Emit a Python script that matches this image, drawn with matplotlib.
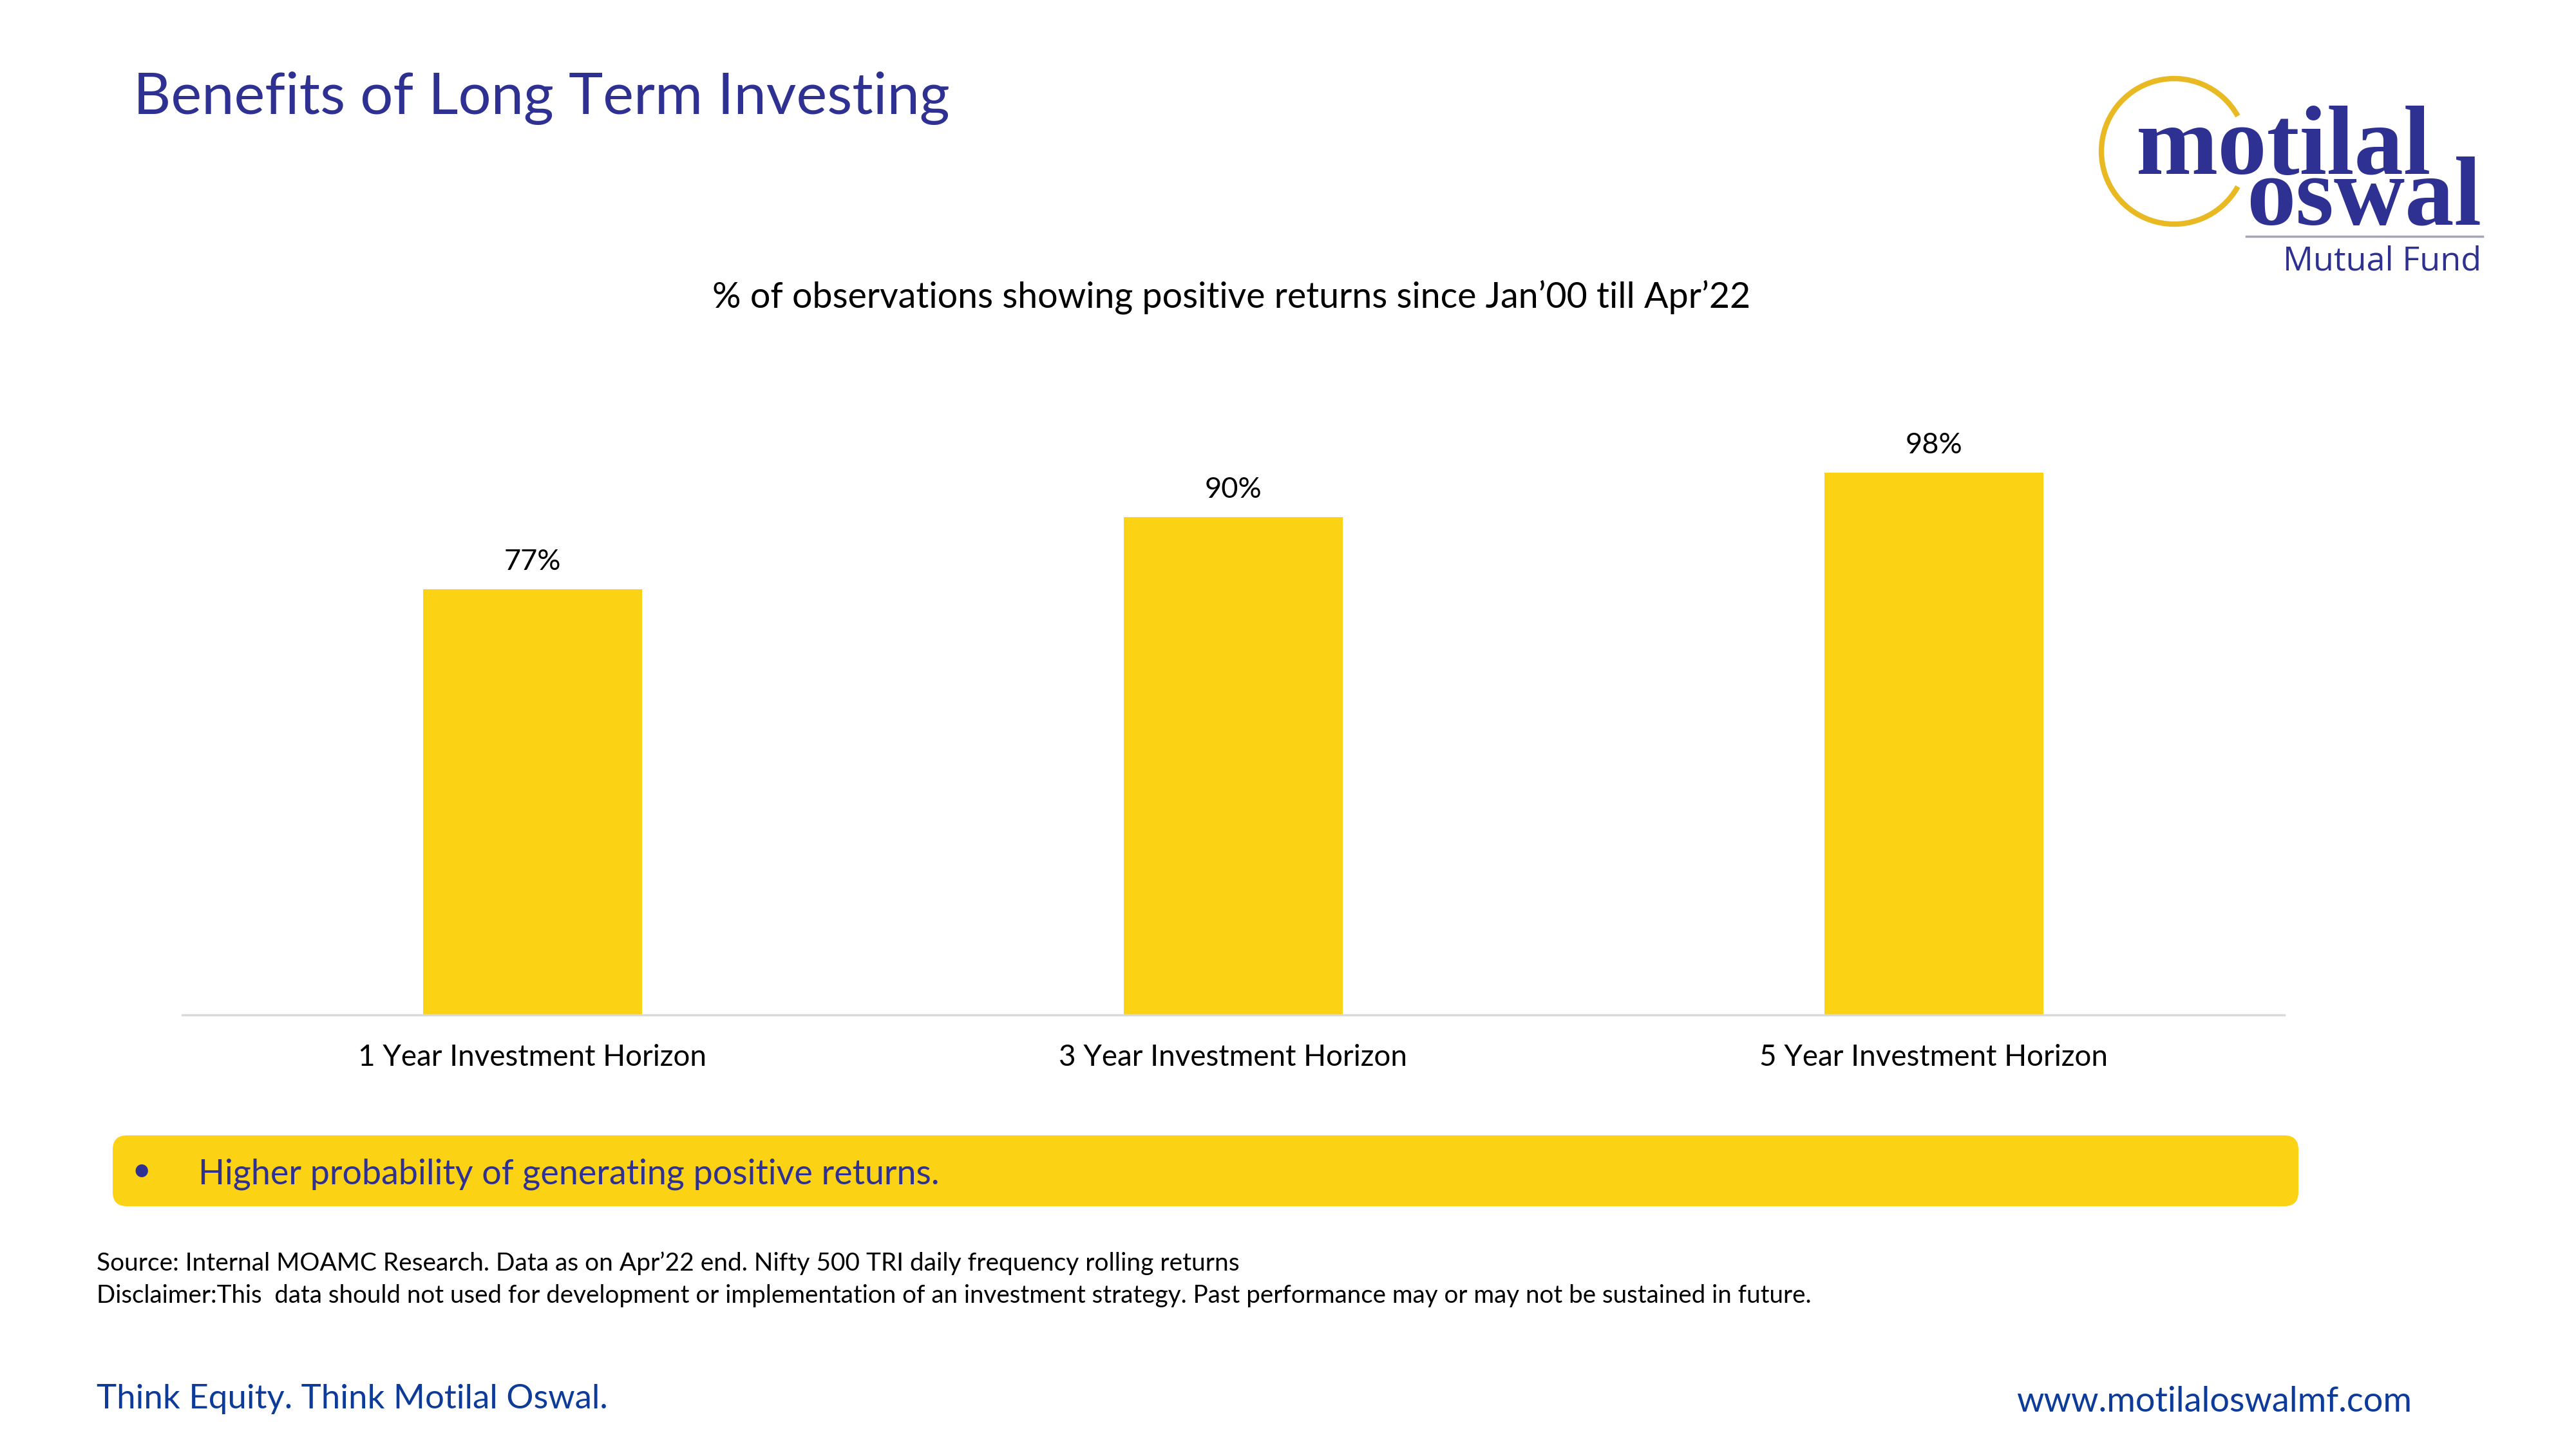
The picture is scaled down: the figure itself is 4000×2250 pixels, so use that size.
import matplotlib
matplotlib.use("Agg")
import matplotlib.pyplot as plt
from matplotlib.patches import Arc, FancyBboxPatch

# Data
categories = ["1 Year Investment Horizon", "3 Year Investment Horizon", "5 Year Investment Horizon"]
positive_pct = [77, 90, 98]

title = "Benefits of Long Term Investing"
subtitle = "% of observations showing positive returns since Jan\u201900 till Apr\u201922"
takeaway = "Higher probability of generating positive returns."
source_note = "Source: Internal MOAMC Research. Data as on Apr\u201922 end. Nifty 500 TRI daily frequency rolling returns"
disclaimer = ("Disclaimer:This  data should not used for development or implementation of an investment "
              "strategy. Past performance may or may not be sustained in future.")
tagline = "Think Equity. Think Motilal Oswal."
website = "www.motilaloswalmf.com"

BLUE = "#2E3192"
FOOT_BLUE = "#0D3B99"
YELLOW = "#FBD214"
FONT = "Lato"

plt.rcParams["font.family"] = [FONT, "DejaVu Sans"]

fig = plt.figure(figsize=(16, 9), dpi=250)

# full page layer in pixel coordinates for the slide decorations
bg = fig.add_axes([0, 0, 1, 1], zorder=0)
bg.set_xlim(0, 4000)
bg.set_ylim(2250, 0)
bg.axis("off")

bg.text(207, 177, title, fontsize=26, color=BLUE, ha="left", va="baseline")
bg.text(1912, 478, subtitle, fontsize=16, color="black", ha="center", va="baseline")

# logo
bg.add_patch(Arc((3376, 235), 226, 226, theta1=29, theta2=331, color="#E8B923", lw=2.4))
bg.text(3317, 270, "motilal", fontsize=44, fontweight="bold", family="Liberation Serif",
        color=BLUE, ha="left", va="baseline")
bg.text(3488, 348, "oswal", fontsize=44, fontweight="bold", family="Liberation Serif",
        color=BLUE, ha="left", va="baseline")
bg.plot([3488, 3855], [367, 367], color="#A4A4B4", lw=1.0)
bg.text(3853, 420, "Mutual Fund", fontsize=15, family="Open Sans", color=BLUE,
        ha="right", va="baseline")

# takeaway box
bg.add_patch(FancyBboxPatch((195, 1783), 3354, 70, boxstyle="round,pad=20,rounding_size=22",
                            facecolor=YELLOW, edgecolor="none"))
bg.text(220, 1819, "\u2022", fontsize=15, color=BLUE, ha="center", va="center")
bg.text(308, 1839, takeaway, fontsize=15.5, color=BLUE, ha="left", va="baseline")

bg.text(150, 1973, source_note, fontsize=11.2, color="black", ha="left", va="baseline")
bg.text(150, 2023, disclaimer, fontsize=11.1, color="black", ha="left", va="baseline")

bg.text(150, 2187, tagline, fontsize=15.2, color=FOOT_BLUE, ha="left", va="baseline")
bg.text(3745, 2192, website, fontsize=15.6, color=FOOT_BLUE, ha="right", va="baseline")

# bar chart
ax = fig.add_axes([0.07075, 0.29956, 0.816, 0.3818], zorder=1)
ax.patch.set_alpha(0)
x = list(range(len(categories)))
ax.bar(x, positive_pct, width=0.3125, color=YELLOW, zorder=2)
for xi, v in zip(x, positive_pct):
    ax.annotate(f"{v}%", (xi, v), xytext=(0, 8.6), textcoords="offset points",
                ha="center", va="baseline", fontsize=13, color="black")

ax.set_xlim(-0.5, len(categories) - 0.5)
ax.set_ylim(0, 100)
ax.set_xticks(x)
ax.set_xticklabels(categories, fontsize=13.2, color="black")
ax.tick_params(axis="x", length=0, pad=13)
ax.set_yticks([])
for side in ["top", "right", "left"]:
    ax.spines[side].set_visible(False)
ax.spines["bottom"].set_color("#D9D9D9")
ax.spines["bottom"].set_linewidth(1.0)
ax.spines["bottom"].set_zorder(3)

fig.savefig("out.png", dpi=250, facecolor="white")
